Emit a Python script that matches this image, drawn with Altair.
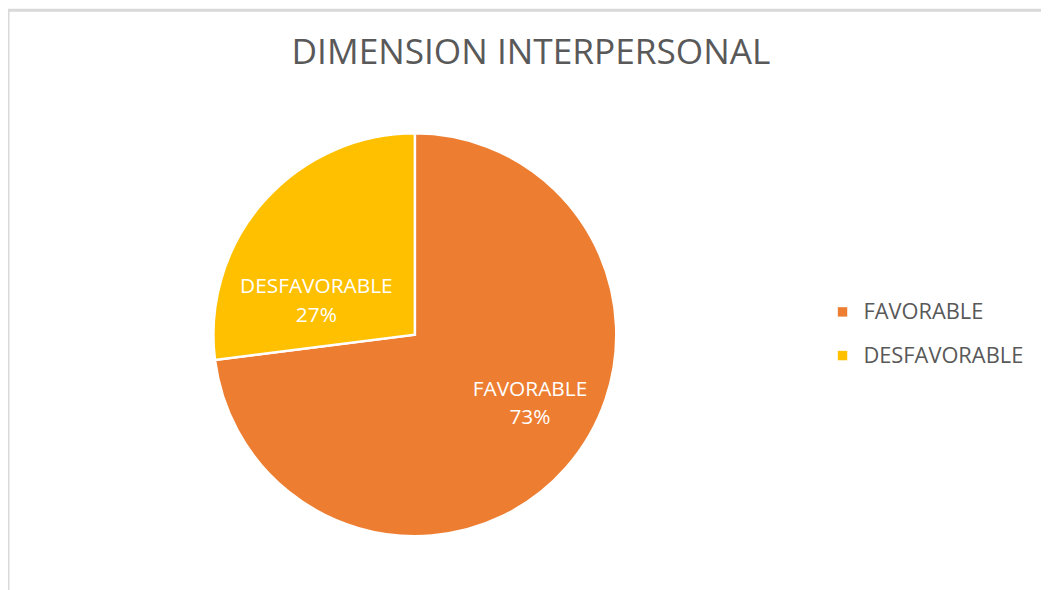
import altair as alt
import pandas as pd

categories = ["FAVORABLE", "DESFAVORABLE"]
values = [73, 27]
colors = ["#ED7D31", "#FFC000"]
title_text = "DIMENSION INTERPERSONAL"

df = pd.DataFrame({"cat": categories, "val": values, "ord": list(range(len(categories)))})
df["label"] = [f"{c}\n{v}%" for c, v in zip(categories, values)]

W, H = 1041, 582
CX, CY = 410, 327
R = 203
FONT = "Open Sans"
GRAY = "#595959"

base = alt.Chart(df).transform_window(
    cum="sum(val)", sort=[alt.SortField("ord")], frame=[None, 0]
).transform_calculate(
    start="datum.cum - datum.val", mid="datum.cum - datum.val / 2"
)

pie = base.mark_arc(radius=R, stroke="white", strokeWidth=2.5).encode(
    theta=alt.Theta("start:Q", scale=alt.Scale(domain=[0, 100])),
    theta2="cum:Q",
    x=alt.value(CX),
    y=alt.value(CY),
    color=alt.Color(
        "cat:N",
        scale=alt.Scale(domain=categories, range=colors),
        legend=alt.Legend(
            title=None, orient="none", legendX=830, legendY=293,
            symbolType="square", symbolSize=90, symbolStrokeWidth=0,
            labelFontSize=22, labelFont=FONT, labelColor=GRAY,
            rowPadding=22, labelOffset=10, labelLimit=400,
        ),
    ),
)

def label_layer(cat, radius, dx, dy):
    return base.transform_filter(alt.datum.cat == cat).mark_text(
        radius=radius, lineBreak="\n", fontSize=21, font=FONT, color="white",
        dx=dx, dy=dy, baseline="middle", lineHeight=29,
    ).encode(
        theta=alt.Theta("mid:Q", scale=alt.Scale(domain=[0, 100])),
        x=alt.value(CX), y=alt.value(CY), text="label:N",
    )

fav_lbl = label_layer(categories[0], 132, 17, -32)
des_lbl = label_layer(categories[1], 107, -19, 23)

title = alt.Chart(pd.DataFrame({"t": [title_text]})).mark_text(
    fontSize=35.5, font=FONT, color=GRAY, baseline="middle", align="center"
).encode(x=alt.value(527), y=alt.value(43), text="t:N")

border = alt.Chart(pd.DataFrame({"a": [0]})).mark_rect(
    fill="transparent", stroke="#d9d9d9", strokeWidth=3
).encode(x=alt.value(0), y=alt.value(0), x2=alt.value(1200), y2=alt.value(800))

chart = alt.layer(border, pie, fav_lbl, des_lbl, title).properties(
    width=W, height=H, autosize=alt.AutoSizeParams(type="none"), padding=0,
    background="white",
).configure_view(stroke=None)

chart.save("out.html", embed_options={"renderer": "svg", "actions": False})
